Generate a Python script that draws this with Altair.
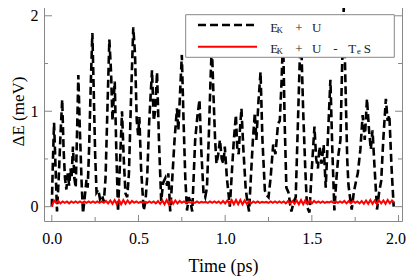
import altair as alt
import pandas as pd

# ---- data ----
time_k = [0.000, 0.006, 0.013, 0.020, 0.030, 0.040, 0.050, 0.060, 0.068, 0.076, 0.084, 0.092, 0.100, 0.108, 0.114,
          0.122, 0.130, 0.138, 0.146, 0.153, 0.162, 0.172, 0.180, 0.190, 0.200, 0.207, 0.215, 0.225, 0.234, 0.242,
          0.250, 0.258, 0.268, 0.278, 0.290, 0.300, 0.310, 0.322, 0.332, 0.342, 0.350, 0.356, 0.363, 0.372, 0.382,
          0.392, 0.405, 0.415, 0.425, 0.435, 0.445, 0.458, 0.470, 0.480, 0.490, 0.498, 0.505, 0.515, 0.530, 0.540,
          0.550, 0.562, 0.578, 0.588, 0.596, 0.607, 0.618, 0.631, 0.642, 0.655, 0.665, 0.672, 0.683, 0.695, 0.708,
          0.722, 0.730, 0.740, 0.750, 0.760, 0.770, 0.780, 0.790, 0.800, 0.810, 0.818, 0.827, 0.840, 0.852, 0.862,
          0.875, 0.885, 0.895, 0.905, 0.915, 0.923, 0.932, 0.942, 0.950, 0.960, 0.970, 0.980, 0.990, 0.998, 1.010,
          1.027, 1.040, 1.050, 1.062, 1.070, 1.078, 1.085, 1.094, 1.105, 1.118, 1.128, 1.138, 1.148, 1.160, 1.171,
          1.180, 1.192, 1.204, 1.215, 1.229, 1.240, 1.250, 1.262, 1.277, 1.290, 1.305, 1.315, 1.325, 1.334, 1.343,
          1.353, 1.365, 1.375, 1.382, 1.395, 1.407, 1.420, 1.436, 1.450, 1.462, 1.472, 1.486, 1.500, 1.515, 1.525,
          1.535, 1.544, 1.556, 1.568, 1.580, 1.592, 1.607, 1.618, 1.630, 1.642, 1.653, 1.665, 1.675, 1.684, 1.695,
          1.704, 1.711, 1.720, 1.730, 1.742, 1.755, 1.765, 1.780, 1.793, 1.805, 1.818, 1.830, 1.840, 1.850, 1.862,
          1.876, 1.888, 1.900, 1.912, 1.927, 1.937, 1.947, 1.960, 1.972]
ek_u = [0.00, 0.45, 0.88, 0.50, -0.05, 0.30, 0.75, 1.12, 0.60, 0.30, 0.18, 0.35, 0.22, 0.40, 0.30,
        0.63, 0.30, 0.20, 0.80, 1.38, 0.80, 0.25, -0.07, 0.10, 0.28, 0.20, 0.60, 1.30, 1.82, 1.20,
        0.55, 0.15, 0.18, 0.08, 0.12, 0.05, 0.30, 1.10, 1.75, 1.40, 0.90, 1.10, 1.31, 0.60, -0.05,
        0.40, 1.00, 0.50, 0.14, 0.10, 0.35, 1.20, 1.88, 1.60, 0.90, 0.75, 0.94, 0.40, -0.04, 0.05,
        0.30, 0.90, 1.43, 0.90, 1.00, 1.41, 0.70, 0.06, 0.25, 0.30, 0.22, 0.35, -0.05, 0.30, 0.70,
        1.03, 0.80, 1.20, 1.59, 0.90, 0.30, -0.04, 0.10, 0.05, -0.05, 0.30, 0.70, 0.95, 1.12, 0.60,
        0.15, 0.10, 0.20, 0.70, 1.30, 1.70, 1.20, 0.70, 0.45, 0.55, 0.70, 0.50, 0.45, 0.63, 0.30,
        0.00, 0.40, 0.70, 0.96, 0.60, 0.55, 0.80, 1.03, 0.60, 0.20, 0.05, -0.05, 0.30, 0.70, 0.98,
        0.70, 1.10, 1.41, 0.70, 0.17, 0.12, 0.10, 0.30, 0.65, 0.55, 0.87, 0.90, 1.30, 1.80, 0.90,
        0.20, 0.15, 0.02, -0.05, 0.05, 0.10, 0.90, 1.90, 1.00, 0.40, 0.00, -0.06, 0.40, 0.84, 0.50,
        0.40, 0.63, 0.45, 0.65, 0.20, 0.70, 1.33, 0.60, -0.04, 0.30, 0.54, 0.70, 1.50, 2.09, 1.20,
        0.50, 0.23, 0.10, -0.03, 0.15, 0.27, 0.35, 0.60, 0.96, 0.70, 1.13, 0.80, 0.60, 0.80, 0.40,
        -0.03, 0.15, 0.27, 0.70, 1.13, 0.90, 0.96, 0.40, 0.00]

ek_u_ts = [0.00, 0.065, 0.04, 0.06, 0.035, 0.055, 0.04, 0.055, 0.035, 0.055, 0.04, 0.055, 0.04, 0.055, 0.04, 0.055,
           0.04, 0.055, 0.04, 0.055, 0.04, 0.055, 0.04, 0.055, 0.04, 0.06, 0.035, 0.065, 0.03, 0.07, 0.025, 0.07,
           0.025, 0.07, 0.03, 0.065, 0.035, 0.06, 0.04, 0.055, 0.04, 0.05, 0.045, 0.05, 0.04, 0.055, 0.04, 0.055,
           0.035, 0.06, 0.03, 0.065, 0.025, 0.07, 0.025, 0.07, 0.03, 0.065, 0.035, 0.06, 0.04, 0.055, 0.04, 0.05,
           0.045, 0.05, 0.04, 0.055, 0.04, 0.05, 0.045, 0.05, 0.04, 0.055, 0.04, 0.055, 0.04, 0.055, 0.035, 0.06,
           0.035, 0.065, 0.03, 0.07, 0.025, 0.07, 0.025, 0.07, 0.025, 0.065, 0.03, 0.06, 0.035, 0.055, 0.04, 0.055,
           0.04, 0.05, 0.045, 0.05, 0.04, 0.055, 0.04, 0.055, 0.04, 0.055, 0.04, 0.055, 0.035, 0.06, 0.035, 0.06,
           0.03, 0.065, 0.025, 0.07, 0.025, 0.07, 0.03, 0.065, 0.035, 0.06, 0.04, 0.055, 0.04, 0.055, 0.04, 0.05,
           0.045, 0.055, 0.04, 0.055, 0.04, 0.055, 0.04, 0.06, 0.035, 0.06, 0.035, 0.06, 0.04, 0.055, 0.035, 0.06,
           0.03, 0.065, 0.03, 0.07, 0.03, 0.065, 0.03, 0.065, 0.035, 0.065, 0.03, 0.07, 0.035, 0.065, 0.045]
time_ts = [round(i * 0.0125, 4) for i in range(len(ek_u_ts))]

x_major = [0.0, 0.5, 1.0, 1.5, 2.0]
x_minor = [0.25, 0.75, 1.25, 1.75]
y_major = [0, 1, 2]
y_minor = [0.5, 1.5]

W, H = 358, 220
FRAME = "#888888"
SERIF = "Liberation Serif"

xs = alt.Scale(domain=[-0.045, 2.02], nice=False, zero=False)
ys = alt.Scale(domain=[-0.15, 2.155], nice=False, zero=False)
x_axis = alt.Axis(values=x_major, format=".1f", title="Time (ps)", ticks=False, tickSize=0, domain=False,
                  grid=False, labelPadding=9, labelFontSize=16, labelFont=SERIF, labelColor="black",
                  labelOffset={"expr": "datum.value >= 2 ? -3 : 0"},
                  titleFont=SERIF, titleFontSize=18, titleFontWeight="normal", titleColor="black",
                  titlePadding=11)
y_axis = alt.Axis(values=y_major, format="d", title="ΔE (meV)", ticks=False, tickSize=0, domain=False,
                  grid=False, labelPadding=6, labelFontSize=16, labelFont=SERIF, labelColor="black",
                  titleFont=SERIF, titleFontSize=17, titleFontWeight="normal", titleColor="black",
                  titlePadding=3)

df_k = pd.DataFrame({"t": time_k, "v": ek_u})
df_ts = pd.DataFrame({"t": time_ts, "v": ek_u_ts})

black = alt.Chart(df_k).mark_line(color="black", strokeWidth=2.6, strokeDash=[8, 4], clip=True).encode(
    x=alt.X("t:Q", scale=xs, axis=x_axis), y=alt.Y("v:Q", scale=ys, axis=y_axis), order="t:Q")
red = alt.Chart(df_ts).mark_line(color="#ff0000", strokeWidth=2, clip=True).encode(
    x=alt.X("t:Q", scale=xs, axis=x_axis), y=alt.Y("v:Q", scale=ys, axis=y_axis), order="t:Q")


def xticks(vals, length):
    d = pd.DataFrame({"t": vals})
    return alt.Chart(d).mark_rule(color=FRAME, strokeWidth=1).encode(
        x=alt.X("t:Q", scale=xs, axis=x_axis), y=alt.value(H), y2=alt.value(H - length))


def yticks(vals, length, right=False):
    d = pd.DataFrame({"v": vals})
    x0, x1 = (W - length, W) if right else (0, length)
    return alt.Chart(d).mark_rule(color=FRAME, strokeWidth=1).encode(
        y=alt.Y("v:Q", scale=ys, axis=y_axis), x=alt.value(x0), x2=alt.value(x1))


one = pd.DataFrame({"a": [0]})
legend_box = alt.Chart(one).mark_rect(fill="white", stroke=FRAME, strokeWidth=1).encode(
    x=alt.value(141.7), x2=alt.value(350.3), y=alt.value(13.7), y2=alt.value(56.3))
leg_black = alt.Chart(one).mark_rule(color="black", strokeWidth=2.6, strokeDash=[8, 4]).encode(
    x=alt.value(154), x2=alt.value(213), y=alt.value(24))
leg_red = alt.Chart(one).mark_rule(color="#ff0000", strokeWidth=2).encode(
    x=alt.value(154), x2=alt.value(213), y=alt.value(45.7))


def glyph(s, x, y, size=13):
    return alt.Chart(one).mark_text(font=SERIF, fontSize=size, color="#222222", align="center",
                                    baseline="alphabetic").encode(
        x=alt.value(x), y=alt.value(y), text=alt.value(s))


texts = [
    glyph("E", 230.2, 30.7), glyph("K", 235.9, 32.2, 8.5), glyph("+", 254.9, 30.7), glyph("U", 272.7, 30.7),
    glyph("E", 230.2, 51.7), glyph("K", 235.9, 53.2, 8.5), glyph("+", 254.9, 51.7), glyph("U", 272.7, 51.7),
    glyph("-", 291.3, 51.7), glyph("T", 308.2, 51.7), glyph("e", 314.9, 53.0, 8.5), glyph("S", 323.3, 51.7),
]

chart = alt.layer(
    black, red,
    xticks(x_major, 6), xticks(x_minor, 4),
    yticks(y_major, 8), yticks(y_minor, 4),
    yticks(y_major, 7, right=True), yticks(y_minor, 4, right=True),
    legend_box, leg_black, leg_red, *texts,
).properties(
    width=W, height=H, autosize="none",
    padding={"left": 36, "top": -7, "right": 5, "bottom": 58},
).configure_view(stroke=FRAME, strokeWidth=1)

chart.save("out.html", embed_options={"renderer": "svg", "actions": False})
